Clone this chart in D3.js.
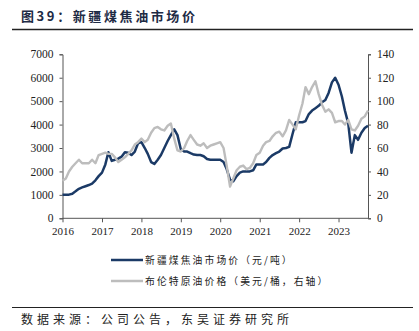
<!DOCTYPE html>
<html><head><meta charset="utf-8">
<script src="https://cdn.jsdelivr.net/npm/d3@7"></script>
<style>
body{margin:0;background:#fff;}
svg{display:block;}
</style></head>
<body>
<svg id="chart" width="419" height="331"></svg>
<script>
// ---- data (monthly, Jan 2016 .. Oct 2023) ----
const startMonth = "2016-01";
const yearLabels = ["2016","2017","2018","2019","2020","2021","2022","2023"];
const coalTar = [
 1000,1000,1010,1050,1150,1260,1320,1370,1420,1480,1620,1800,
 1950,2300,2820,2450,2500,2550,2630,2820,2800,2700,2850,3200,
 3250,3000,2750,2400,2320,2500,2700,3000,3300,3550,3800,3550,
 2950,2850,2850,2780,2720,2700,2700,2650,2530,2500,2500,2500,
 2500,2400,2100,1650,1580,1800,1950,2000,2000,2000,2050,2300,
 2300,2300,2400,2580,2700,2780,2850,2980,3000,3050,3600,4100,
 4100,4100,4150,4450,4600,4700,4800,4950,5050,5350,5800,6000,
 5700,5200,4600,4050,2800,3550,3350,3650,3850,3950
];
const brent = [
 32,34,40,44,47,50,47,47,47,50,47,54,
 55,56,55,55,52,48,50,52,55,58,63,65,
 68,65,67,73,77,78,76,75,79,81,68,58,
 57,60,66,71,67,63,62,64,60,62,63,64,
 65,60,45,27,34,41,44,45,42,43,47,54,
 56,62,65,66,70,73,74,70,75,84,80,76,
 88,98,112,106,112,117,106,97,91,93,90,82,
 83,83,80,84,76,75,79,85,87,92
];
const leftTicks = [0,1000,2000,3000,4000,5000,6000,7000];
const rightTicks = [0,20,40,60,80,100,120,140];
const title = "图39：新疆煤焦油市场价";
const legendNames = ["新疆煤焦油市场价（元/吨）","布伦特原油价格（美元/桶，右轴）"];
const source = "数据来源：公司公告，东吴证券研究所";
const colors = ["#1b3a66","#bdbdbd"];

// ---- layout ----
const svg = d3.select("#chart");
const m = {left:62.5, right:368, top:54.3, bottom:218.3};
const t0 = d3.timeParse("%Y-%m")(startMonth);
const dates = coalTar.map((_,i)=>d3.timeMonth.offset(t0,i));
const x = d3.scaleTime().domain([t0, dates[dates.length-1]]).range([m.left, m.right]);
const yL = d3.scaleLinear().domain([0,7000]).range([m.bottom, m.top]);
const yR = d3.scaleLinear().domain([0,140]).range([m.bottom, m.top]);

const serif = "'Liberation Serif','Times New Roman',serif";
const cjk = "'Noto Sans CJK SC','Noto Sans CJK JP',sans-serif";
const axisColor = "#555";

// title
svg.append("text").attr("x",21).attr("y",21)
  .attr("font-family",cjk).attr("font-weight","bold").attr("font-size",13)
  .attr("letter-spacing",2.6).attr("fill","#1e2b45").text(title);
svg.append("line").attr("x1",12).attr("x2",413).attr("y1",29.5).attr("y2",29.5)
  .attr("stroke","#222").attr("stroke-width",1.6);

// axes
const gL = svg.append("g").attr("transform",`translate(${m.left},0)`)
  .call(d3.axisLeft(yL).tickValues(leftTicks).tickSize(3).tickPadding(6).tickFormat(d3.format("d")));
const gR = svg.append("g").attr("transform",`translate(${m.right},0)`)
  .call(d3.axisRight(yR).tickValues(rightTicks).tickSize(3).tickPadding(6).tickFormat(d3.format("d")));
const yearDates = yearLabels.map(y=>d3.timeParse("%Y")(y));
const gX = svg.append("g").attr("transform",`translate(0,${m.bottom})`)
  .call(d3.axisBottom(x).tickValues(yearDates).tickSize(4).tickPadding(5)
    .tickFormat((d,i)=>yearLabels[i]));
[gL,gR,gX].forEach(g=>{
  g.select(".domain").attr("stroke",axisColor).attr("stroke-width",1);
  g.selectAll(".tick line").attr("stroke",axisColor);
  g.selectAll("text").attr("font-family",serif).attr("font-size",11.5).attr("fill","#222");
});
gX.select(".domain").attr("d",`M${m.left},0H${m.right}`);
gX.selectAll("text").attr("font-size",11);

// lines
const lineL = d3.line().x((d,i)=>x(dates[i])).y(d=>yL(d));
const lineR = d3.line().x((d,i)=>x(dates[i])).y(d=>yR(d));
svg.append("path").datum(coalTar).attr("d",lineL).attr("fill","none")
  .attr("stroke",colors[0]).attr("stroke-width",2.5).attr("stroke-linejoin","round");
svg.append("path").datum(brent).attr("d",lineR).attr("fill","none")
  .attr("stroke",colors[1]).attr("stroke-width",2.4).attr("stroke-linejoin","round");

// legend
legendNames.forEach((n,i)=>{
  const yy = 260 + i*21;
  svg.append("line").attr("x1",111).attr("x2",143).attr("y1",yy).attr("y2",yy)
    .attr("stroke",colors[i]).attr("stroke-width",2.5);
  svg.append("text").attr("x",145).attr("y",yy+3.5)
    .attr("font-family",cjk).attr("font-size",9.8).attr("letter-spacing",2.1)
    .attr("fill","#222").text(n);
});

// footer
svg.append("line").attr("x1",12).attr("x2",413).attr("y1",307.5).attr("y2",307.5)
  .attr("stroke","#222").attr("stroke-width",1);
svg.append("text").attr("x",21).attr("y",324)
  .attr("font-family",cjk).attr("font-size",12).attr("letter-spacing",4)
  .attr("fill","#222").text(source);
</script>
</body></html>
